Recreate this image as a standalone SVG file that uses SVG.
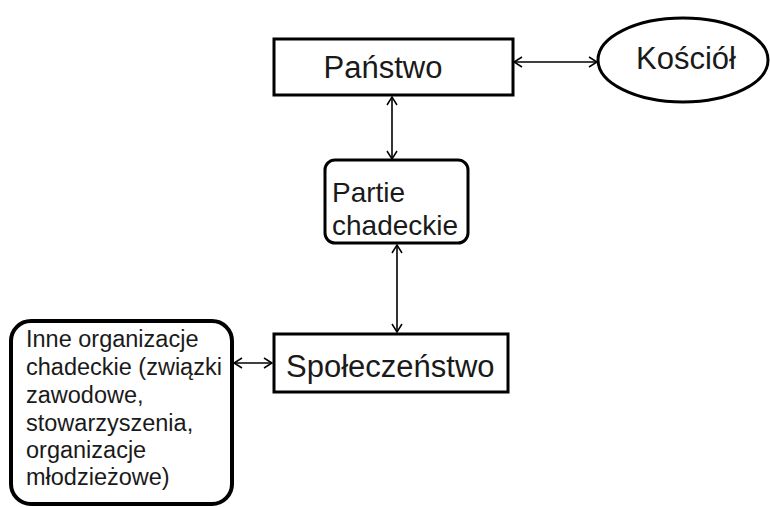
<svg xmlns="http://www.w3.org/2000/svg" width="770" height="507" viewBox="0 0 770 507">
<defs>
<style>
.box{fill:#fff;stroke:#000;stroke-width:3}
.t{font-family:"Liberation Sans",Arial,sans-serif;fill:#1a1a1a}
.c{stroke:#000;stroke-width:1.6;fill:none;marker-start:url(#a);marker-end:url(#a)}
</style>
<marker id="a" viewBox="0 0 12 12" refX="11" refY="6" markerWidth="12" markerHeight="12" markerUnits="userSpaceOnUse" orient="auto-start-reverse">
<path d="M3,1 L11,6 L3,11" fill="none" stroke="#000" stroke-width="1.5"/>
</marker>
</defs>
<rect width="770" height="507" fill="#fff"/>
<g id="connectors">
<line class="c" x1="514" y1="62" x2="597" y2="62"/>
<line class="c" x1="392" y1="97" x2="392" y2="159"/>
<line class="c" x1="397" y1="245" x2="397" y2="332"/>
<line class="c" x1="234" y1="363" x2="272" y2="363"/>
</g>
<g id="panstwo">
<rect class="box" x="274" y="39" width="239" height="56"/>
<text class="t" x="383" y="78" font-size="31" text-anchor="middle">Państwo</text>
</g>
<g id="kosciol">
<ellipse class="box" cx="683" cy="60" rx="85" ry="42"/>
<text class="t" x="686" y="69" font-size="31" text-anchor="middle">Kościół</text>
</g>
<g id="partie">
<rect class="box" x="325" y="160" width="143" height="83" rx="10"/>
<text class="t" font-size="28"><tspan x="332" y="202">Partie</tspan><tspan x="332" y="235">chadeckie</tspan></text>
</g>
<g id="spoleczenstwo">
<rect class="box" x="274" y="334" width="234" height="58"/>
<text class="t" x="286" y="377" font-size="31">Społeczeństwo</text>
</g>
<g id="inne">
<rect x="11" y="321" width="221" height="183" rx="20" fill="#fff" stroke="#000" stroke-width="4"/>
<text class="t" font-size="23.5"><tspan x="26" y="347">Inne organizacje</tspan><tspan x="26" y="375">chadeckie (związki</tspan><tspan x="26" y="403">zawodowe,</tspan><tspan x="26" y="431">stowarzyszenia,</tspan><tspan x="26" y="458">organizacje</tspan><tspan x="26" y="485">młodzieżowe)</tspan></text>
</g>
</svg>
